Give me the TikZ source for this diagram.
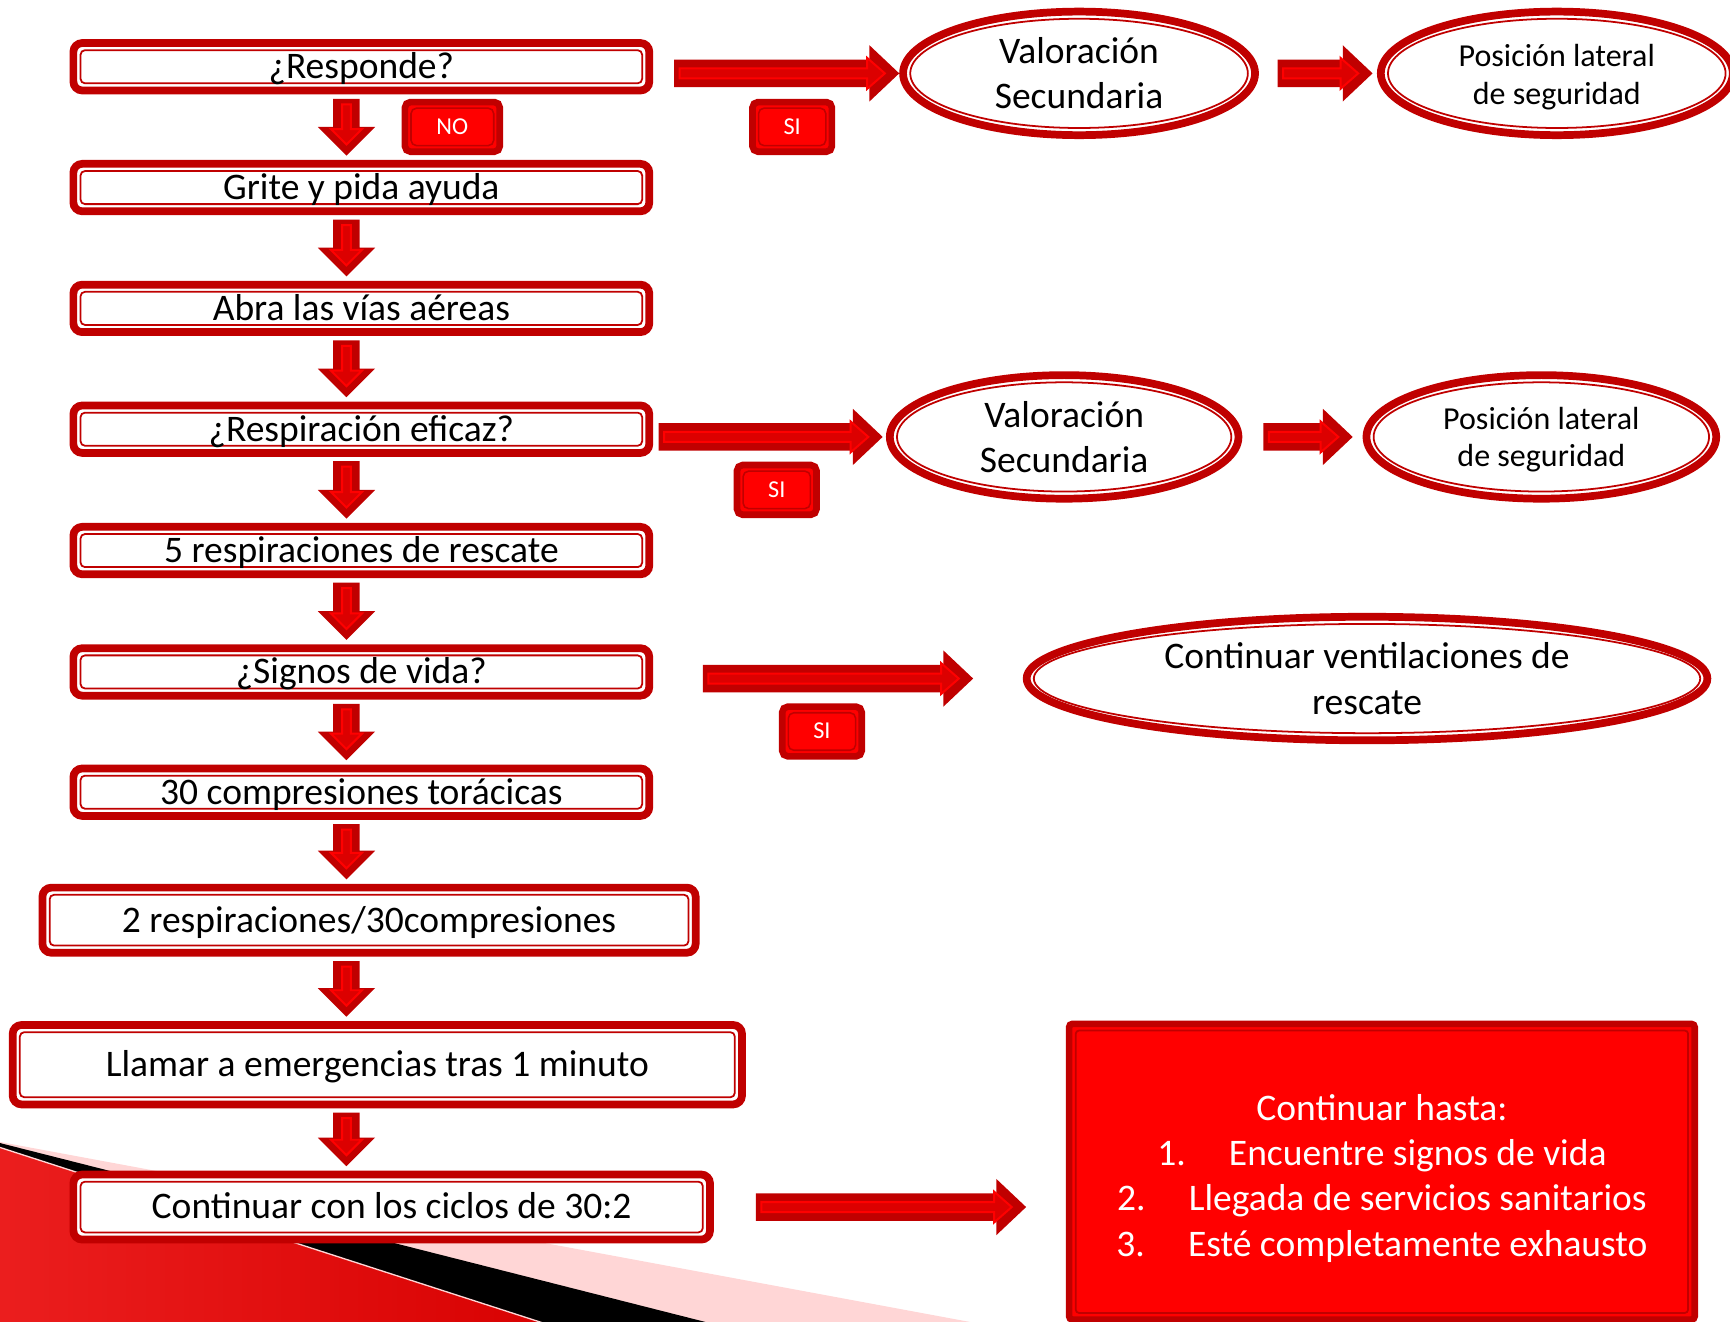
\documentclass[tikz,border=0pt]{standalone}
\usepackage{fontspec}
\setmainfont{Carlito}
\usetikzlibrary{shapes.geometric,calc}
\definecolor{dred}{RGB}{192,0,0}
\definecolor{bred}{RGB}{255,0,0}
\definecolor{ired}{RGB}{220,0,0}
\definecolor{pinkbg}{RGB}{255,214,214}
\definecolor{lred}{RGB}{250,82,82}
\definecolor{mred}{RGB}{235,30,30}
\definecolor{edred}{RGB}{215,0,0}

\tikzset{
  boxtxt/.style={font=\fontsize{34}{41}\selectfont},
  stepbox/.style={boxtxt, draw=dred, line width=7pt, fill=white, rounded corners=8pt,
    inner sep=0pt, text height=21.5pt, text depth=0pt,
    minimum width=522pt, minimum height=43pt,
    path picture={\draw[dred, line width=1.6pt, rounded corners=4pt]
      ([shift={(6.5pt,-6.5pt)}]path picture bounding box.north west) rectangle
      ([shift={(-6.5pt,6.5pt)}]path picture bounding box.south east);}},
  ellbox/.style={ellipse, boxtxt, align=center, draw=dred, line width=7pt, fill=white,
    inner sep=0pt, minimum height=112pt,
    path picture={\draw[dred, line width=1.6pt]
      let \p1=(path picture bounding box.north east), \p2=(path picture bounding box.center)
      in (\p2) ellipse [x radius=\x1-\x2-6.5pt, y radius=\y1-\y2-6.5pt];}},
  smalltxt/.style={font=\fontsize{29}{34}\selectfont},
  tagbox/.style={draw=dred, line width=6pt, fill=bred, rounded corners=5pt, inner sep=0pt,
    text=white, font=\fontsize{22}{26}\selectfont, text height=13.5pt, text depth=0pt,
    minimum height=45pt,
    path picture={\draw[dred, line width=1.4pt]
      ([shift={(5.5pt,-5.5pt)}]path picture bounding box.north west) rectangle
      ([shift={(-5.5pt,5.5pt)}]path picture bounding box.south east);}},
  redpanel/.style={draw=dred, line width=6pt, fill=bred, rounded corners=3pt, inner sep=0pt,
    path picture={\draw[dred, line width=1.6pt]
      ([shift={(6pt,-6pt)}]path picture bounding box.north west) rectangle
      ([shift={(-6pt,6pt)}]path picture bounding box.south east);}},
  arrout/.style={fill=dred},
  arrin/.style={fill=ired, draw=bred, line width=1.8pt, line join=miter},
}

% down block arrow from node #1 to node #2 at x = 314
\newcommand\dArrow[2]{%
  \path[arrout] let \p1=(#1.south), \p2=(#2.north) in
    (302pt,\y1-4pt) -- (326pt,\y1-4pt) -- (326pt,\y2+30pt) -- (340pt,\y2+30pt)
    -- (314pt,\y2+4pt) -- (288pt,\y2+30pt) -- (302pt,\y2+30pt) -- cycle;
  \path[arrin] let \p1=(#1.south), \p2=(#2.north) in
    (310pt,\y1-9pt) -- (318pt,\y1-9pt) -- (318pt,\y2+28pt) -- (328pt,\y2+28pt)
    -- (314pt,\y2+14pt) -- (300pt,\y2+28pt) -- (310pt,\y2+28pt) -- cycle;
}
% right block arrow from #1 to #2, height taken from #3, gaps #4 / #5
\newcommand\rArrow[5]{%
  \path[arrout] let \p1=(#1.east), \p2=(#2.west), \p3=(#3.center) in
    (\x1+#4pt,\y3+12.5pt) -- (\x2-#5pt-27pt,\y3+12.5pt) -- (\x2-#5pt-27pt,\y3+25.5pt)
    -- (\x2-#5pt,\y3) -- (\x2-#5pt-27pt,\y3-25.5pt) -- (\x2-#5pt-27pt,\y3-12.5pt)
    -- (\x1+#4pt,\y3-12.5pt) -- cycle;
  \path[arrin] let \p1=(#1.east), \p2=(#2.west), \p3=(#3.center) in
    (\x1+#4pt+5pt,\y3+4.5pt) -- (\x2-#5pt-29pt,\y3+4.5pt) -- (\x2-#5pt-29pt,\y3+14pt)
    -- (\x2-#5pt-13pt,\y3) -- (\x2-#5pt-29pt,\y3-14pt) -- (\x2-#5pt-29pt,\y3-4.5pt)
    -- (\x1+#4pt+5pt,\y3-4.5pt) -- cycle;
}

\begin{document}
\begin{tikzpicture}[x={(1pt,0pt)}, y={(0pt,-1pt)}]
\useasboundingbox (0,0) rectangle (1568,1197.3);

% background slashes, bottom left
\fill[pinkbg] (0,1035) -- (943,1210) -- (0,1210) -- cycle;
\fill[black] (0,1036) -- (686,1210) -- (0,1210) -- cycle;
\shade[left color=mred, middle color=lred, right color=edred]
  (0,1040) -- (526,1210) -- (0,1210) -- cycle;
\draw[pinkbg, line width=1.2pt] (0,1040) -- (526,1210);

% left column
\node[stepbox] (b1) at (327.5,60.5) {¿Responde?};
\node[stepbox] (b2) at (327.5,170) {Grite y pida ayuda};
\node[stepbox] (b3) at (327.5,279.5) {Abra las vías aéreas};
\node[stepbox] (b4) at (327.5,389) {¿Respiración eficaz?};
\node[stepbox] (b5) at (327.5,499) {5 respiraciones de rescate};
\node[stepbox] (b6) at (327.5,609) {¿Signos de vida?};
\node[stepbox] (b7) at (327.5,718) {30 compresiones torácicas};
\node[stepbox, minimum width=592pt, minimum height=59pt] (b8) at (334.5,834) {2 respiraciones/30compresiones};
\node[stepbox, minimum width=661pt, minimum height=72pt] (b9) at (342,965) {Llamar a emergencias tras 1 minuto};
\node[stepbox, minimum width=577pt, minimum height=59pt] (b10) at (355,1094) {Continuar con los ciclos de 30:2};

% tags
\node[tagbox, minimum width=86pt] (no) at (410,115) {NO};
\node[tagbox, minimum width=72pt] (si1) at (718,115) {SI};
\node[tagbox, minimum width=72pt] (si2) at (704,444) {SI};
\node[tagbox, minimum width=72pt] (si3) at (745,663) {SI};

% ellipses
\node[ellbox, minimum width=319pt] (e1) at (978,66.5) {Valoración\\Secundaria};
\node[ellbox, smalltxt, minimum width=319pt] (e2) at (1411,66.5) {\rule{0pt}{27pt}Posición lateral\\de seguridad};
\node[ellbox, minimum width=316pt] (e3) at (964.5,396) {Valoración\\Secundaria};
\node[ellbox, smalltxt, minimum width=317pt] (e4) at (1397,396) {\rule{0pt}{25pt}Posición lateral\\de seguridad};
\node[ellbox, minimum width=617pt] (e5) at (1239,615) {Continuar ventilaciones de\\rescate};

% red panel
\node[redpanel, minimum width=567pt, minimum height=268pt] (rbox) at (1252.5,1062) {};
\node[boxtxt, text=white, align=center] (rtext) at (1252.5,1068)
  {Continuar hasta:\\
   \makebox[65pt][l]{1.}Encuentre signos de vida\\
   \makebox[65pt][l]{2.}Llegada de servicios sanitarios\\
   \makebox[65pt][l]{3.}Esté completamente exhausto};

% down arrows
\dArrow{b1}{b2}
\dArrow{b2}{b3}
\dArrow{b3}{b4}
\dArrow{b4}{b5}
\dArrow{b5}{b6}
\dArrow{b6}{b7}
\dArrow{b7}{b8}
\dArrow{b8}{b9}
\dArrow{b9}{b10}

% right arrows
\rArrow{b1}{e1}{e1}{19}{0}
\rArrow{e1}{e2}{e1}{17}{4}
\rArrow{b4}{e3}{e3}{5}{3}
\rArrow{e3}{e4}{e3}{19}{9}
\rArrow{b6}{e5}{e5}{45}{45}
\rArrow{b10}{rbox}{b10}{38}{36}
\end{tikzpicture}
\end{document}
